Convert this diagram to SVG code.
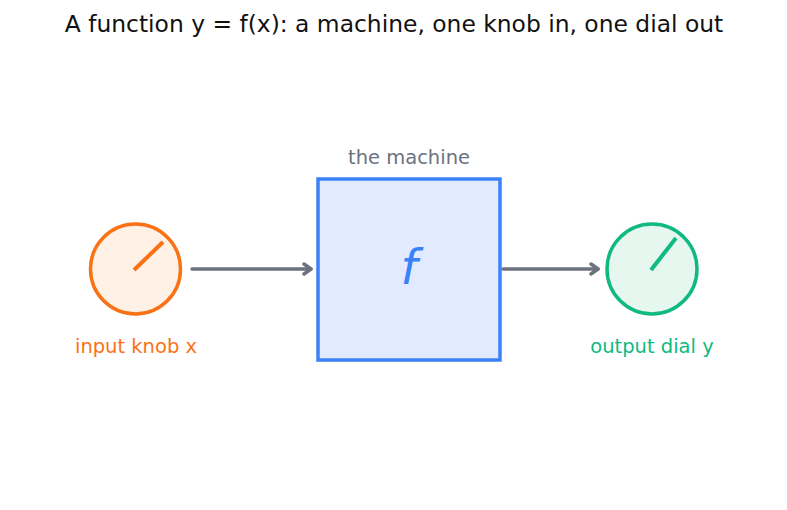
<svg xmlns="http://www.w3.org/2000/svg" width="787" height="510" viewBox="0 0 787 510">
<style>
text{font-family:"DejaVu Sans","Liberation Sans",sans-serif;text-anchor:middle}
.title{font-size:23.4px;fill:#111}
.lbl{font-size:19.5px}
.conn{stroke:#6b7280;stroke-width:3.5;fill:none;stroke-linecap:round}
</style>
<defs>
<marker id="ah" markerUnits="userSpaceOnUse" markerWidth="14" markerHeight="14" refX="11" refY="7" orient="auto">
<path d="M4,2 L11,7 L4,12" fill="none" stroke="#6b7280" stroke-width="3.5" stroke-linecap="round" stroke-linejoin="round"/>
</marker>
</defs>
<rect width="787" height="510" fill="#fff"/>
<text class="title" x="394" y="32">A function y = f(x): a machine, one knob in, one dial out</text>
<g id="connectors">
<line class="conn" x1="192" y1="269" x2="311" y2="269" marker-end="url(#ah)"/>
<line class="conn" x1="503" y1="269" x2="598" y2="269" marker-end="url(#ah)"/>
</g>
<g id="knob">
<circle cx="135.5" cy="269" r="45" fill="#fff1e5" stroke="#f97316" stroke-width="3.5"/>
<line x1="134" y1="270" x2="163" y2="242" stroke="#f97316" stroke-width="4"/>
<text class="lbl" x="136" y="353" fill="#f97316">input knob x</text>
</g>
<g id="machine">
<text class="lbl" x="409" y="164" fill="#6b7280">the machine</text>
<rect x="318" y="179" width="182" height="181" fill="#e1eaff" stroke="#3b82f6" stroke-width="3.5"/>
<text x="409" y="284" font-size="48" font-style="italic" fill="#3b82f6">f</text>
</g>
<g id="dial">
<circle cx="652" cy="269" r="45" fill="#e6f7ef" stroke="#10b981" stroke-width="3.5"/>
<line x1="651" y1="270" x2="676" y2="238" stroke="#10b981" stroke-width="4"/>
<text class="lbl" x="652" y="353" fill="#10b981">output dial y</text>
</g>
</svg>
